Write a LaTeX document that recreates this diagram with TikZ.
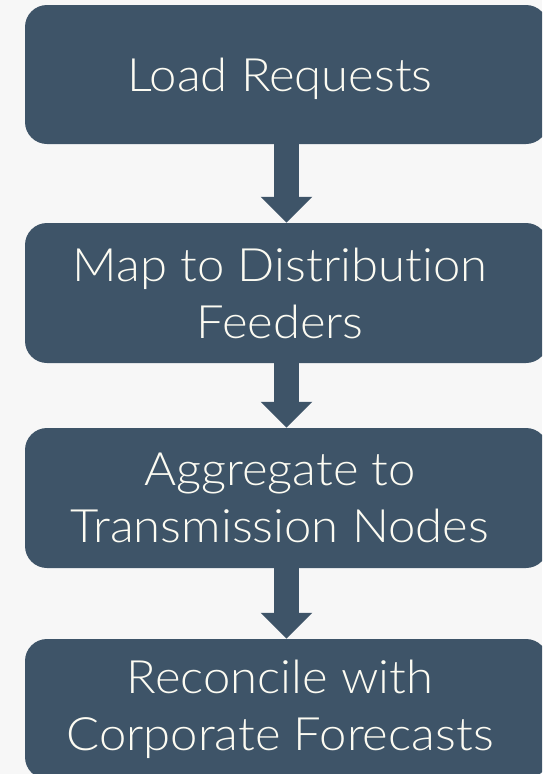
\documentclass[tikz,border=0pt]{standalone}
\usepackage{fontspec}
\setmainfont{Lato Light}[Ligatures={NoCommon,NoRare}, FakeStretch=1.065]
\usetikzlibrary{arrows.meta}
\definecolor{boxfill}{RGB}{62,84,104}
\definecolor{pagebg}{RGB}{247,247,247}
\definecolor{boxtext}{RGB}{252,251,242}
\tikzset{
  stepbox/.style={rectangle, rounded corners=22pt, fill=boxfill, draw=none,
    minimum width=523pt, minimum height=140pt, inner sep=0pt},
  steplabel/.style={inner sep=0pt, text=boxtext, align=center,
    font=\fontsize{46pt}{57pt}\selectfont},
  flow/.style={draw=boxfill, line width=25pt,
    -{Triangle[width=50pt,length=26pt]}}
}
\begin{document}
\begin{tikzpicture}[x=1pt,y=1pt]
  \useasboundingbox (0,0) rectangle (542,-774);
  \fill[pagebg] (0,0) rectangle (542,-774);
  \clip (0,0) rectangle (542,-774);
  % process boxes
  \node[stepbox, minimum height=139pt] (load) at (286.5,-74.5) {};
  \node[stepbox] (map) at (286.5,-293) {};
  \node[stepbox] (agg) at (286.5,-498) {};
  \node[stepbox] (rec) at (286.5,-709) {};
  % box captions, set slightly left of the box centre
  \node[steplabel, text height=33pt, text depth=0pt] (loadtxt)
    at ([xshift=-6.5pt]load.center) {Load Requests};
  \node[steplabel] (maptxt) at ([xshift=-6.5pt]map.center) {Map to Distribution\\Feeders};
  \node[steplabel] (aggtxt) at ([xshift=-6.5pt]agg.center) {Aggregate to\\Transmission Nodes};
  \node[steplabel] (rectxt) at ([xshift=-6.5pt]rec.center) {Reconcile with\\Corporate Forecasts};
  % block arrows between steps
  \draw[flow] (load.south) -- (map.north);
  \draw[flow] (map.south) -- (agg.north);
  \draw[flow] (agg.south) -- (rec.north);
\end{tikzpicture}
\end{document}
